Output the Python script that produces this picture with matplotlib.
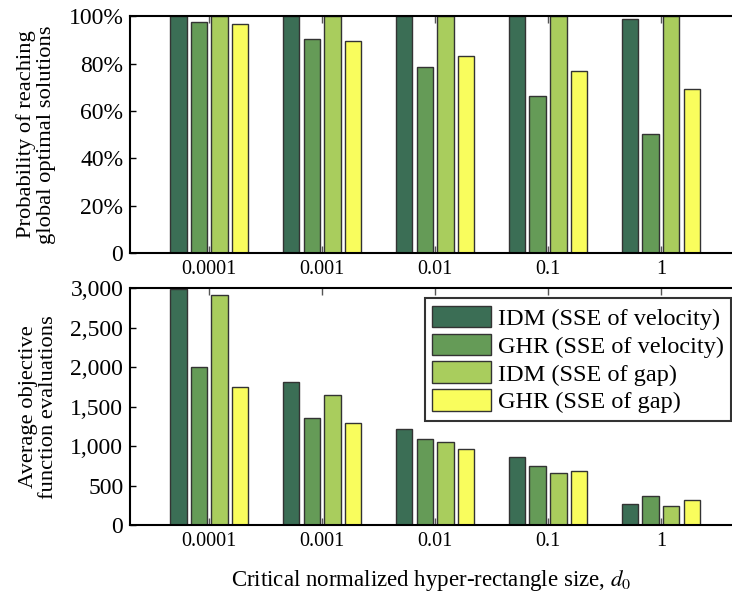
import matplotlib
matplotlib.use("Agg")
import matplotlib.pyplot as plt
import numpy as np
from matplotlib.ticker import FuncFormatter

plt.rcParams['font.family'] = ['Liberation Serif', 'DejaVu Serif']
plt.rcParams['mathtext.fontset'] = 'stix'

# data
sizes = ['0.0001', '0.001', '0.01', '0.1', '1']
series = ['IDM (SSE of velocity)', 'GHR (SSE of velocity)',
          'IDM (SSE of gap)', 'GHR (SSE of gap)']
colors = ['#3b6e55', '#659b57', '#a9cd5d', '#f9fd5d']

prob_idm_vel = [100, 100, 100, 100, 98.7]
prob_ghr_vel = [97.5, 90.5, 78.5, 66.3, 50.4]
prob_idm_gap = [100, 100, 100, 100, 100]
prob_ghr_gap = [96.6, 89.4, 83.2, 76.7, 69.4]

eval_idm_vel = [2990, 1820, 1218, 866, 268]
eval_ghr_vel = [2000, 1360, 1095, 757, 373]
eval_idm_gap = [2915, 1646, 1052, 665, 249]
eval_ghr_gap = [1756, 1297, 968, 682, 315]

prob = [prob_idm_vel, prob_ghr_vel, prob_idm_gap, prob_ghr_gap]
evals = [eval_idm_vel, eval_ghr_vel, eval_idm_gap, eval_ghr_gap]

x = np.arange(len(sizes))
pitch = 0.183
width = 0.145
offsets = (np.arange(4) - 1.5) * pitch

fig = plt.figure(figsize=(7.32, 6.01), dpi=100)
ax1 = fig.add_axes([0.178, 0.579, 0.822, 0.394])
ax2 = fig.add_axes([0.178, 0.126, 0.822, 0.394])

for ax, data in ((ax1, prob), (ax2, evals)):
    for i in range(4):
        ax.bar(x + offsets[i], data[i], width, color=colors[i],
               edgecolor='#333333', linewidth=1.0, label=series[i], zorder=2)
    ax.set_xticks(x)
    ax.set_xticklabels(sizes)
    ax.set_xlim(-0.7, 4.63)
    ax.tick_params(axis='x', direction='in', top=True, length=5, width=1,
                   color='#555555', labelsize=14.5, pad=5)
    ax.tick_params(axis='y', direction='in', length=4, width=1,
                   labelsize=17, pad=5)
    for s in ax.spines.values():
        s.set_linewidth(1.5)
    ax.spines['right'].set_visible(False)

ax1.set_ylim(0, 100)
ax1.set_yticks(np.arange(0, 101, 20))
ax1.yaxis.set_major_formatter(FuncFormatter(lambda v, p: '0' if v == 0 else '%d%%' % v))
ax1.set_ylabel('Probability of reaching\nglobal optimal solutions', fontsize=16.2,
               linespacing=1.08, labelpad=9)

ax2.set_ylim(0, 3000)
ax2.set_yticks(np.arange(0, 3001, 500))
ax2.yaxis.set_major_formatter(FuncFormatter(lambda v, p: '{:,.0f}'.format(v)))
ax2.set_ylabel('Average objective\nfunction evaluations', fontsize=16.2,
               linespacing=1.08, labelpad=9)
ax2.set_xlabel('Critical normalized hyper-rectangle size, $d_0$', fontsize=16.5,
               labelpad=12)

leg = ax2.legend(loc='upper right', bbox_to_anchor=(0.999, 0.958), fontsize=17.5,
                 frameon=True, fancybox=False, edgecolor='black',
                 handlelength=2.4, handleheight=1.0, handletextpad=0.3,
                 labelspacing=0.15, borderpad=0.3, borderaxespad=0.0)
leg.get_frame().set_linewidth(1.5)

fig.savefig('out.png', dpi=100)
